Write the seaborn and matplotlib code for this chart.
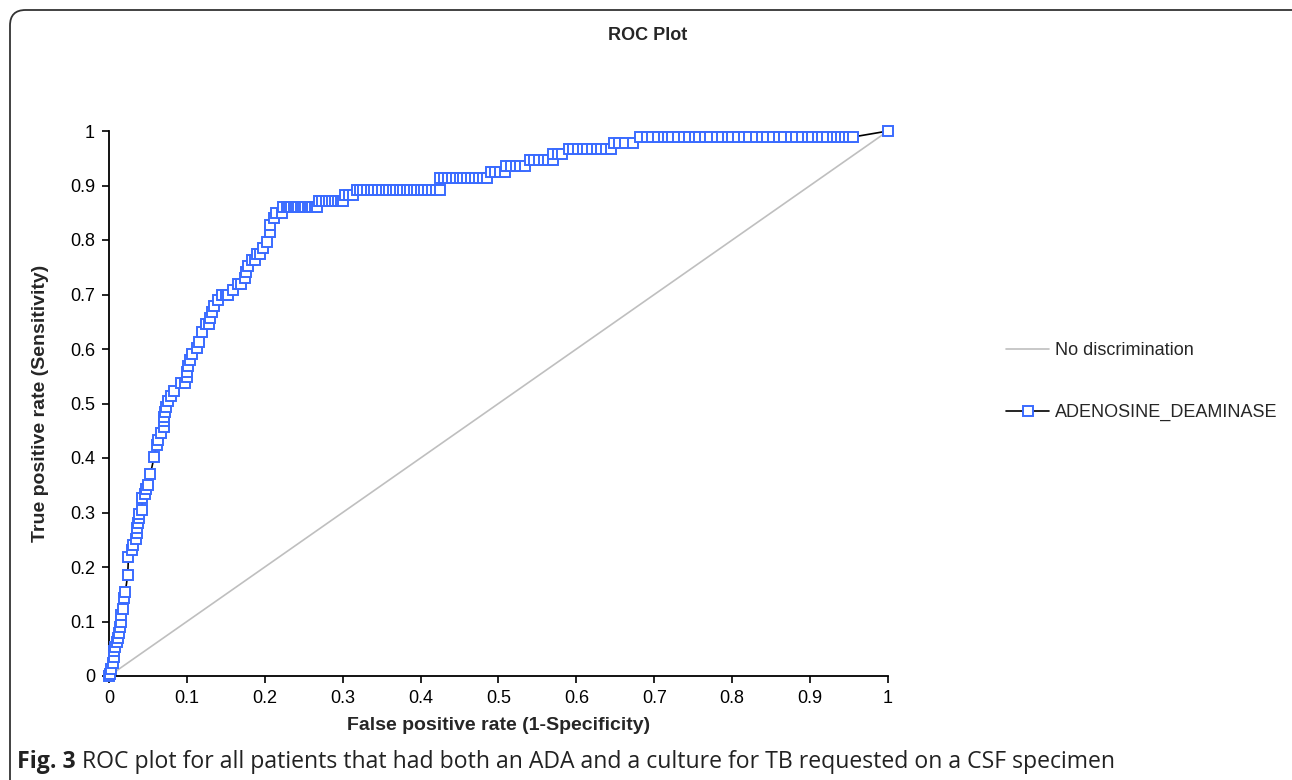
import matplotlib
matplotlib.use("Agg")
import matplotlib.pyplot as plt
import seaborn as sns
import pandas as pd
from matplotlib.patches import FancyBboxPatch
from matplotlib.lines import Line2D

# ---------------- data ----------------
# rising part of the ROC curve
rise_fpr = [0.000, 0.001, 0.003, 0.005, 0.006, 0.007, 0.008, 0.010, 0.012, 0.013,
            0.014, 0.015, 0.016, 0.018, 0.019, 0.021, 0.024, 0.025, 0.030, 0.031,
            0.035, 0.036, 0.036, 0.037, 0.038, 0.039, 0.042, 0.043, 0.046, 0.048,
            0.050, 0.053, 0.058, 0.061, 0.063, 0.067, 0.070, 0.071, 0.071, 0.072,
            0.073, 0.076, 0.080, 0.083, 0.093, 0.097, 0.100, 0.100, 0.102, 0.104,
            0.107, 0.113, 0.116, 0.119, 0.125, 0.128, 0.130, 0.132, 0.135, 0.140,
            0.145, 0.150, 0.153, 0.159, 0.165, 0.170, 0.174, 0.176, 0.178, 0.183,
            0.187, 0.190, 0.194, 0.198, 0.203, 0.207, 0.207, 0.212, 0.215, 0.222]
rise_tpr = [0.000, 0.004, 0.013, 0.024, 0.035, 0.045, 0.054, 0.062, 0.070, 0.079,
            0.090, 0.100, 0.112, 0.123, 0.143, 0.155, 0.185, 0.219, 0.231, 0.240,
            0.251, 0.262, 0.272, 0.281, 0.290, 0.297, 0.305, 0.327, 0.334, 0.343,
            0.350, 0.370, 0.402, 0.424, 0.433, 0.446, 0.457, 0.467, 0.476, 0.485,
            0.494, 0.505, 0.514, 0.523, 0.537, 0.537, 0.548, 0.558, 0.569, 0.580,
            0.591, 0.601, 0.613, 0.632, 0.646, 0.646, 0.656, 0.667, 0.678, 0.689,
            0.699, 0.699, 0.699, 0.709, 0.720, 0.720, 0.731, 0.742, 0.753, 0.764,
            0.764, 0.775, 0.775, 0.786, 0.797, 0.815, 0.827, 0.840, 0.849, 0.849]

# plateau part: tpr level and the fpr of each point on that level
plateau_levels = [0.860, 0.871, 0.882, 0.891, 0.913, 0.925, 0.936, 0.947, 0.957, 0.967, 0.978, 0.989]
plateau_fpr = [
    [0.224, 0.228, 0.231, 0.234, 0.237, 0.240, 0.243, 0.246, 0.249, 0.252, 0.255, 0.258, 0.261, 0.264, 0.267],
    [0.270, 0.274, 0.278, 0.282, 0.286, 0.290, 0.294, 0.298, 0.301],
    [0.303, 0.308, 0.313],
    [0.318, 0.322, 0.326, 0.331, 0.336, 0.340, 0.345, 0.350, 0.355, 0.360, 0.364, 0.368,
     0.373, 0.378, 0.382, 0.387, 0.391, 0.396, 0.401, 0.405, 0.410, 0.415, 0.420, 0.425],
    [0.425, 0.430, 0.435, 0.440, 0.445, 0.450, 0.455, 0.460, 0.465, 0.470, 0.475, 0.480, 0.485],
    [0.490, 0.495, 0.502, 0.508],
    [0.510, 0.516, 0.522, 0.528, 0.534],
    [0.540, 0.546, 0.552, 0.558, 0.564, 0.570],
    [0.570, 0.576, 0.582],
    [0.590, 0.596, 0.602, 0.608, 0.614, 0.620, 0.626, 0.632, 0.638, 0.645],
    [0.648, 0.655, 0.662, 0.673],
    [0.682, 0.690, 0.697, 0.705, 0.712, 0.718, 0.723, 0.730, 0.738, 0.745, 0.752, 0.758,
     0.765, 0.772, 0.780, 0.787, 0.795, 0.800, 0.808, 0.815, 0.822, 0.830, 0.838, 0.845,
     0.852, 0.860, 0.867, 0.875, 0.882, 0.890, 0.897, 0.903, 0.910, 0.915, 0.922, 0.930,
     0.935, 0.940, 0.945, 0.950, 0.955],
]
end_fpr = [1.0]
end_tpr = [1.0]

diag_fpr = [0.0, 1.0]
diag_tpr = [0.0, 1.0]

tick_values = [0, 0.1, 0.2, 0.3, 0.4, 0.5, 0.6, 0.7, 0.8, 0.9, 1]
tick_labels = ["0", "0.1", "0.2", "0.3", "0.4", "0.5", "0.6", "0.7", "0.8", "0.9", "1"]

series_name = "ADENOSINE_DEAMINASE"
diag_name = "No discrimination"
title = "ROC Plot"
xlabel = "False positive rate (1-Specificity)"
ylabel = "True positive rate (Sensitivity)"
caption_bold = "Fig. 3"
caption_text = " ROC plot for all patients that had both an ADA and a culture for TB requested on a CSF specimen"

# build the curve table
fpr = list(rise_fpr)
tpr = list(rise_tpr)
for lvl, xs in zip(plateau_levels, plateau_fpr):
    fpr += xs
    tpr += [lvl] * len(xs)
fpr += end_fpr
tpr += end_tpr
curve = pd.DataFrame({"fpr": fpr, "tpr": tpr})
diag = pd.DataFrame({"fpr": diag_fpr, "tpr": diag_tpr})

# ---------------- style ----------------
sns.set_style("ticks")
FONT = ["Liberation Sans", "DejaVu Sans"]
plt.rcParams["font.family"] = FONT
BLUE = "#3A6BFF"
GREY = "#BFBFBF"

W, H = 1292, 780
fig = plt.figure(figsize=(W / 100, H / 100), dpi=100)
ax = fig.add_axes([109 / W, (H - 676) / H, 779 / W, 545 / H])

sns.lineplot(data=diag, x="fpr", y="tpr", ax=ax, color=GREY, linewidth=1.2,
             estimator=None, sort=False, label=diag_name)
sns.lineplot(data=curve, x="fpr", y="tpr", ax=ax, color="black", linewidth=1.2,
             estimator=None, sort=False, marker="s", markersize=6.5,
             markerfacecolor="white", markeredgecolor=BLUE, markeredgewidth=1.4,
             label=series_name, clip_on=False, zorder=3)

ax.set_xlim(0, 1)
ax.set_ylim(0, 1)
ax.set_xticks(tick_values)
ax.set_xticklabels(tick_labels)
ax.set_yticks(tick_values)
ax.set_yticklabels(tick_labels)
ax.tick_params(axis="both", direction="out", length=5, width=1.2, colors="black",
               labelsize=13, pad=5)
for s in ["top", "right"]:
    ax.spines[s].set_visible(False)
for s in ["left", "bottom"]:
    ax.spines[s].set_linewidth(1.3)
    ax.spines[s].set_color("black")

ax.set_xlabel(xlabel, fontsize=14, fontweight="bold", labelpad=7)
ax.set_ylabel(ylabel, fontsize=14, fontweight="bold", labelpad=15)

# legend
ax.get_legend().remove()
handles = [Line2D([0], [0], color=GREY, linewidth=1.2),
           Line2D([0], [0], color="black", linewidth=1.2, marker="s", markersize=6.5,
                  markerfacecolor="white", markeredgecolor=BLUE, markeredgewidth=1.4)]
fig.legend(handles, [diag_name, series_name], loc="center left",
           bbox_to_anchor=(1006 / W, (H - 381.5) / H), frameon=False,
           fontsize=13, handlelength=2.4, handletextpad=0.3, labelspacing=2.5,
           borderpad=0, borderaxespad=0)

# title
fig.text(648 / W, (H - 35) / H, title, ha="center", va="center",
         fontsize=13, fontweight="bold")

# caption
cap_y = (H - 762) / H
cap = fig.text(17 / W, cap_y, caption_bold, ha="left", va="center",
               fontsize=16.6, fontweight="bold", color="#222222",
               family=["Open Sans", "Liberation Sans"])
fig.canvas.draw()
bb = cap.get_window_extent()
fig.text(bb.x1 / W, cap_y, caption_text, ha="left", va="center",
         fontsize=16.6, color="#222222", family=["Open Sans", "Liberation Sans"])

# frame with rounded corner
frame = FancyBboxPatch((10 / W, -0.1), (W - 10) / W - 10 / W + 0.02, (H - 10) / H + 0.1,
                       boxstyle="round,pad=0,rounding_size=0.012",
                       transform=fig.transFigure, fill=False, edgecolor="#333333",
                       linewidth=1.3, mutation_aspect=W / H)
fig.patches.append(frame)

fig.savefig("out.png", dpi=100)
